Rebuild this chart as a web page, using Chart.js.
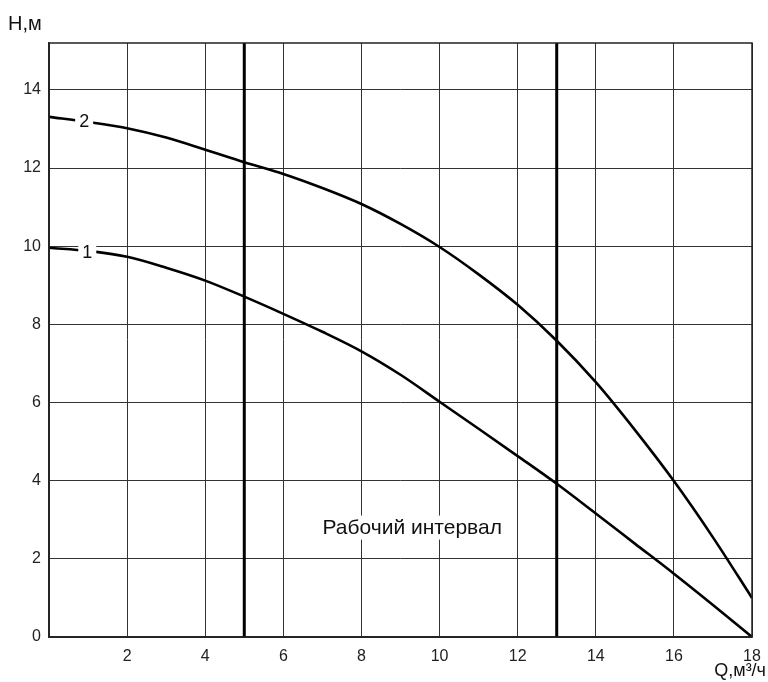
<!DOCTYPE html>
<html><head><meta charset="utf-8">
<script src="https://cdn.jsdelivr.net/npm/chart.js@4"></script>
<style>html,body{margin:0;padding:0;background:#fff}#w{width:768px;height:682px}</style>
</head><body><div id="w"><canvas id="c" width="768" height="682"></canvas></div>
<script>
const flowQ = [0,1,2,3,4,5,6,7,8,9,10,11,12,13,14,15,16,17,18];
const headCurve1 = [9.96,9.88,9.73,9.45,9.12,8.71,8.27,7.81,7.31,6.71,6.02,5.33,4.63,3.92,3.16,2.39,1.62,0.82,0];
const headCurve2 = [13.31,13.18,13.02,12.78,12.47,12.15,11.85,11.49,11.08,10.57,9.98,9.28,8.5,7.58,6.52,5.3,3.99,2.55,1.0];
const workBounds = [5,13];
const xTicks = [2,4,6,8,10,12,14,16,18];
const yTicks = [0,2,4,6,8,10,12,14];
const yMax = 15.2;
const curveLabels = [{text:'1', x:0.98, y:9.86},{text:'2', x:0.9, y:13.2}];
const areaText = 'Рабочий интервал';
const areaTextPos = {x:9.3, y:2.8};

const FONT = '"Liberation Sans", Arial, sans-serif';
const toPts = (ys)=> flowQ.map((q,i)=>({x:q,y:ys[i]}));

const datasets = [
  {data:toPts(headCurve1), borderColor:'#000', borderWidth:2.6, pointRadius:0, cubicInterpolationMode:'monotone', fill:false},
  {data:toPts(headCurve2), borderColor:'#000', borderWidth:2.6, pointRadius:0, cubicInterpolationMode:'monotone', fill:false},
];
workBounds.forEach(b=>datasets.push({data:[{x:b,y:0},{x:b,y:yMax}], borderColor:'#000', borderWidth:3, pointRadius:0, fill:false}));

const deco = {
  id:'deco',
  afterDatasetsDraw(chart){
    const {ctx, chartArea:a, scales:{x,y}} = chart;
    ctx.save();
    ctx.strokeStyle='#222'; ctx.lineWidth=1.5;
    ctx.strokeRect(a.left, a.top, a.right-a.left, a.bottom-a.top);
    ctx.textAlign='center'; ctx.textBaseline='middle';
    ctx.font='18px '+FONT;
    curveLabels.forEach(l=>{
      const px=x.getPixelForValue(l.x), py=y.getPixelForValue(l.y);
      const w=ctx.measureText(l.text).width+8;
      ctx.fillStyle='#fff'; ctx.fillRect(px-w/2, py-10, w, 20);
      ctx.fillStyle='#111'; ctx.fillText(l.text, px, py+1);
    });
    ctx.font='21px '+FONT;
    const tx=x.getPixelForValue(areaTextPos.x), ty=y.getPixelForValue(areaTextPos.y);
    const tw=ctx.measureText(areaText).width+6;
    ctx.fillStyle='#fff'; ctx.fillRect(tx-tw/2, ty-12, tw, 24);
    ctx.fillStyle='#111'; ctx.fillText(areaText, tx, ty+1);
    ctx.font='20px '+FONT; ctx.textAlign='left';
    ctx.fillText('H,м', 8, 24);
    ctx.font='18px '+FONT;
    ctx.textAlign='right';
    ctx.fillText('Q,м³/ч', 766, 671);
    ctx.restore();
  }
};

new Chart(document.getElementById('c'), {
  type:'line',
  data:{datasets},
  plugins:[deco],
  options:{
    responsive:false, animation:false,
    layout:{autoPadding:false, padding:{top:43,right:16,bottom:0,left:0}},
    plugins:{legend:{display:false}, tooltip:{enabled:false}},
    scales:{
      x:{type:'linear', min:0, max:18,
        afterBuildTicks:s=>{s.ticks=[0,...xTicks].map(v=>({value:v}));},
        afterFit:s=>{s.height=45; s.paddingRight=0; s.paddingLeft=0;},
        grid:{color:'#333', lineWidth:1, drawTicks:false},
        border:{color:'#333', width:1.5},
        ticks:{padding:10, color:'#222', font:{family:FONT,size:16}, callback:v=>v===0?'':String(v), maxRotation:0}
      },
      y:{type:'linear', min:0, max:yMax,
        afterBuildTicks:s=>{s.ticks=yTicks.map(v=>({value:v}));},
        afterFit:s=>{s.width=49; s.paddingTop=0; s.paddingBottom=0;},
        grid:{color:'#333', lineWidth:1, drawTicks:false},
        border:{color:'#333', width:1.5},
        ticks:{padding:8, color:'#222', font:{family:FONT,size:16}}
      }
    }
  }
});
</script></body></html>
